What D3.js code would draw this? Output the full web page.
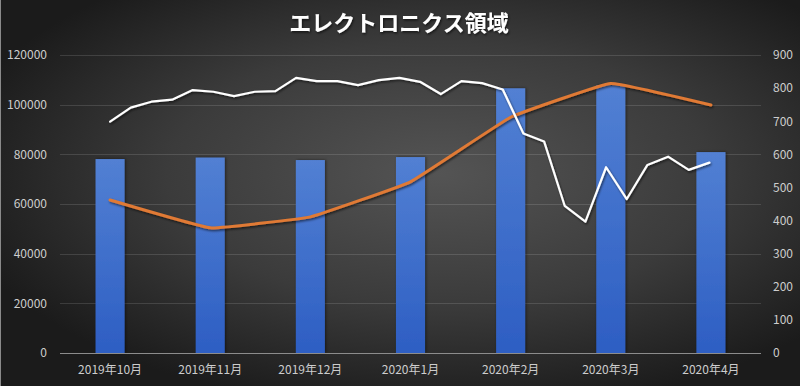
<!DOCTYPE html>
<html><head><meta charset="utf-8">
<script src="https://cdn.jsdelivr.net/npm/d3@7"></script>
<style>
body{margin:0;background:#2a2a2a;}
svg{display:block;}
text{font-family:"Noto Sans CJK JP","Noto Sans",sans-serif;}
</style>
</head><body>
<svg id="c" width="800" height="386"></svg>
<script>
const categories = ["2019年10月","2019年11月","2019年12月","2020年1月","2020年2月","2020年3月","2020年4月"];
const barValues = [78100, 78700, 77700, 78900, 106600, 107800, 80900];
const orangeValues = [462, 378, 411, 517, 712, 814, 749];
const whiteValues = [699, 741, 759, 765, 794, 789, 776, 789, 791, 831,
                     821, 821, 809, 824, 831, 819, 782, 821, 815, 796,
                     663, 639, 444, 397, 561, 465, 568, 593, 553, 575];
const leftTicks = [0, 20000, 40000, 60000, 80000, 100000, 120000];
const rightTicks = [0, 100, 200, 300, 400, 500, 600, 700, 800, 900];
const title = "エレクトロニクス領域";

const W = 800, H = 386;
const L = 60, R = 761, T = 55, B = 353;
const svg = d3.select("#c");
const defs = svg.append("defs");

const bg = defs.append("radialGradient").attr("id","bg")
  .attr("cx","55%").attr("cy","45%").attr("r","62%");
bg.append("stop").attr("offset","0%").attr("stop-color","#545454");
bg.append("stop").attr("offset","55%").attr("stop-color","#3b3b3b");
bg.append("stop").attr("offset","100%").attr("stop-color","#1b1b1b");

const bar = defs.append("linearGradient").attr("id","bar")
  .attr("x1","0").attr("y1","0").attr("x2","0").attr("y2","1");
bar.append("stop").attr("offset","0%").attr("stop-color","#5280d3");
bar.append("stop").attr("offset","100%").attr("stop-color","#2d5ec3");

const sh = defs.append("filter").attr("id","sh").attr("x","-20%").attr("y","-20%").attr("width","140%").attr("height","140%");
sh.append("feDropShadow").attr("dx",1).attr("dy",1.5).attr("stdDeviation",1.2)
  .attr("flood-color","#000").attr("flood-opacity",0.6);
const bsh = defs.append("filter").attr("id","bsh").attr("x","-30%").attr("y","-10%").attr("width","160%").attr("height","120%");
bsh.append("feDropShadow").attr("dx",1).attr("dy",0).attr("stdDeviation",1.5)
  .attr("flood-color","#000").attr("flood-opacity",0.5);

svg.append("rect").attr("width",W).attr("height",H).attr("fill","url(#bg)");
svg.append("line").attr("x1",0.5).attr("x2",0.5).attr("y1",0).attr("y2",H)
  .attr("stroke","#8a8a8a").attr("stroke-width",1);

const x = d3.scaleBand().domain(categories).range([L, R]).paddingInner(0.71).paddingOuter(0.355);
const yL = d3.scaleLinear().domain([0, 120000]).range([B, T]);
const yR = d3.scaleLinear().domain([0, 900]).range([B, T]);
const cx = d => x(d) + x.bandwidth()/2;
const xw = d3.scaleLinear().domain([0, whiteValues.length - 1])
  .range([cx(categories[0]), cx(categories[categories.length-1]) - 1.5]);

// gridlines
svg.append("g").selectAll("line").data(leftTicks.filter(d => d > 0)).join("line")
  .attr("x1", L).attr("x2", R)
  .attr("y1", d => Math.round(yL(d)) + 0.5).attr("y2", d => Math.round(yL(d)) + 0.5)
  .attr("stroke", "rgba(255,255,255,0.13)").attr("stroke-width", 1);

// bars
svg.append("g").selectAll("rect").data(barValues).join("rect")
  .attr("x", (d,i) => x(categories[i]))
  .attr("width", x.bandwidth())
  .attr("y", d => yL(d))
  .attr("height", d => B - yL(d))
  .attr("fill", "url(#bar)")
  .attr("filter", "url(#bsh)");

// baseline
svg.append("line").attr("x1", L).attr("x2", R).attr("y1", B + 0.5).attr("y2", B + 0.5)
  .attr("stroke", "#8c8c8c").attr("stroke-width", 1);

// axes
const axL = svg.append("g").attr("transform", `translate(${L},0)`)
  .call(d3.axisLeft(yL).tickValues(leftTicks).tickSize(0).tickPadding(13).tickFormat(d3.format("d")));
const axR = svg.append("g").attr("transform", `translate(${R},0)`)
  .call(d3.axisRight(yR).tickValues(rightTicks).tickSize(0).tickPadding(12).tickFormat(d3.format("d")));
const axB = svg.append("g").attr("transform", `translate(0,${B})`)
  .call(d3.axisBottom(x).tickSize(0).tickPadding(12));
[axL, axR, axB].forEach(a => {
  a.select(".domain").remove();
  a.selectAll("text").attr("fill", "#cdcdcd").style("font-size", "12px")
    .style("font-family", '"Noto Sans CJK JP","Noto Sans",sans-serif');
});

// orange line
const lineO = d3.line().x((d,i) => cx(categories[i])).y(d => yR(d)).curve(d3.curveCardinal.tension(0.75));
svg.append("path").datum(orangeValues).attr("d", lineO)
  .attr("fill", "none").attr("stroke", "#e07a35").attr("stroke-width", 3)
  .attr("stroke-linejoin", "round").attr("stroke-linecap", "round")
  .attr("filter", "url(#sh)");

// white line
const lineW = d3.line().x((d,i) => xw(i)).y(d => yR(d));
svg.append("path").datum(whiteValues).attr("d", lineW)
  .attr("fill", "none").attr("stroke", "#ffffff").attr("stroke-width", 2.2)
  .attr("stroke-linejoin", "round").attr("stroke-linecap", "round")
  .attr("filter", "url(#sh)");

// title
svg.append("text").attr("x", 399).attr("y", 31).attr("text-anchor", "middle")
  .attr("fill", "#ffffff").style("font-size", "22px").style("font-weight", "bold")
  .attr("filter", "url(#sh)")
  .text(title);
</script>
</body></html>
